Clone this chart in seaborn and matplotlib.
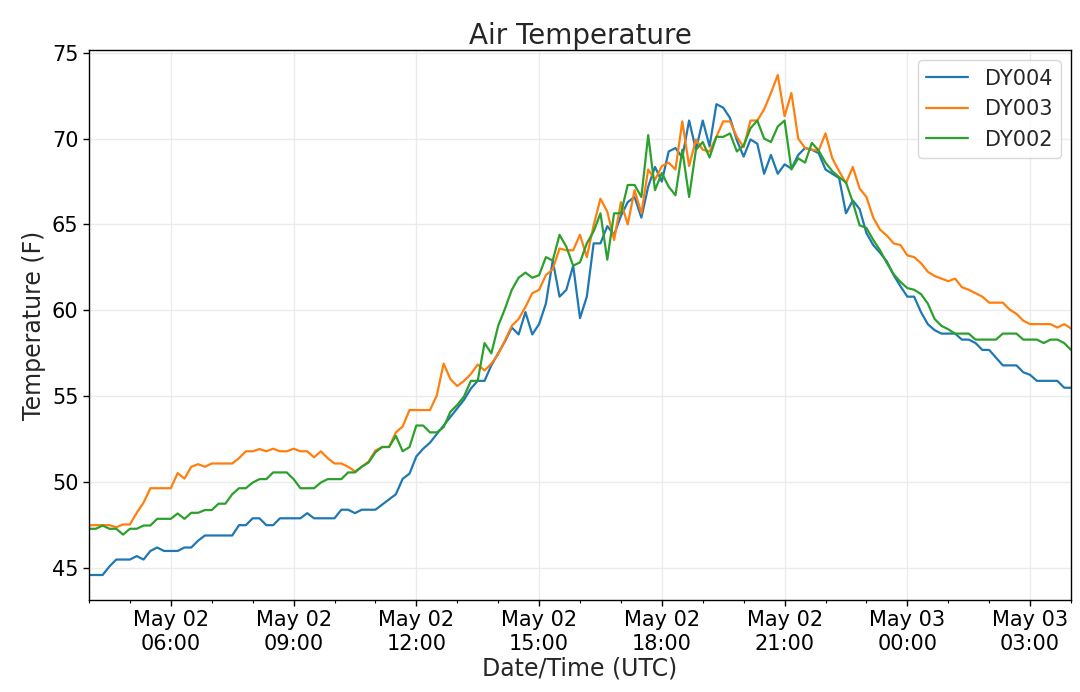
import pandas as pd
import seaborn as sns
import matplotlib

matplotlib.use("Agg")
import matplotlib.pyplot as plt
import matplotlib.dates as mdates

# readings every 10 minutes, 2 May 04:00 UTC -> 3 May 04:00 UTC
start_time = "2019-05-02 04:00"
step = "10min"

dy004 = [
    44.6, 44.6, 44.6, 45.1, 45.5, 45.5, 45.5, 45.7, 45.5, 46.0, 46.2, 46.0, 46.0, 46.0, 46.2,
    46.2, 46.6, 46.9, 46.9, 46.9, 46.9, 46.9, 47.5, 47.5, 47.9, 47.9, 47.5, 47.5, 47.9, 47.9,
    47.9, 47.9, 48.2, 47.9, 47.9, 47.9, 47.9, 48.4, 48.4, 48.2, 48.4, 48.4, 48.4, 48.7,
    49.0, 49.3, 50.2, 50.5, 51.5, 51.95, 52.3, 52.8, 53.3, 53.8, 54.3, 54.8, 55.45, 55.9,
    55.9, 56.8, 57.5,
    58.2, 59.0, 58.6, 59.9, 58.6, 59.2, 60.4, 62.9, 60.8, 61.2, 62.6, 59.55, 60.8, 63.9,
    63.9, 64.9, 64.4, 65.5,
    66.3, 66.6, 65.4, 67.2, 68.35, 67.5, 69.25, 69.45, 68.9, 71.05, 69.35, 71.05, 69.55,
    72.0, 71.8,
    71.2, 69.9, 68.95, 69.95, 69.7, 67.95, 69.05, 67.95, 68.5, 68.25, 69.05, 69.45, 69.35,
    69.15,
    68.2, 67.95, 67.7, 65.65, 66.4, 65.9, 64.5, 63.8, 63.35, 62.85, 62.05, 61.4, 60.8, 60.8,
    59.9, 59.2, 58.85, 58.65, 58.65, 58.65, 58.3, 58.3, 58.1, 57.7, 57.7, 57.25, 56.8, 56.8,
    56.8, 56.4, 56.25, 55.9, 55.9, 55.9, 55.9, 55.5, 55.5,
]

dy003 = [
    47.5, 47.5, 47.5, 47.5, 47.38, 47.54, 47.54, 48.22, 48.81, 49.65, 49.65, 49.65, 49.65,
    50.53, 50.21, 50.9, 51.05, 50.9, 51.09, 51.09, 51.09, 51.09, 51.4, 51.8, 51.8, 51.93,
    51.8, 51.95, 51.8, 51.8, 51.95, 51.8, 51.8, 51.45, 51.8, 51.4, 51.09, 51.09, 50.9, 50.63,
    50.9, 51.2, 51.85, 52.05,
    52.05, 52.9, 53.25, 54.2, 54.2, 54.2, 54.2, 55.05, 56.9, 56.0, 55.6, 55.9, 56.3, 56.85,
    56.5, 56.9, 57.45,
    58.25, 59.1, 59.5, 60.2, 61.0, 61.2, 62.05, 62.4, 63.6, 63.5, 63.5, 64.4, 63.1, 64.95,
    66.5, 65.75, 64.1, 66.3,
    65.0, 67.0, 65.65, 68.2, 67.6, 68.4, 68.6, 68.2, 71.0, 68.4, 69.95, 69.35, 69.25, 70.1,
    71.0,
    71.0, 70.1, 69.5, 71.05, 71.05, 71.7, 72.65, 73.7, 71.3, 72.65, 70.0, 69.45, 69.35, 69.3,
    70.3, 68.85, 68.1, 67.4, 68.35, 67.1, 66.6, 65.4, 64.7, 64.35, 63.9, 63.8, 63.2, 63.1,
    62.75, 62.25, 62.0, 61.85, 61.7, 61.85, 61.35, 61.2, 61.0, 60.8, 60.45, 60.45, 60.45,
    60.05, 59.8, 59.4, 59.2, 59.2, 59.2, 59.2, 59.0, 59.2, 58.95,
]

dy002 = [
    47.29, 47.29, 47.48, 47.29, 47.29, 46.95, 47.29, 47.29, 47.48, 47.48, 47.87, 47.87, 47.87,
    48.18, 47.87, 48.22, 48.22, 48.38, 48.38, 48.75, 48.75, 49.3, 49.65, 49.65, 49.98, 50.18,
    50.18, 50.57, 50.57, 50.57, 50.18, 49.65, 49.65, 49.65, 49.98, 50.18, 50.18, 50.18, 50.57,
    50.57, 50.9, 51.15, 51.74, 52.05,
    52.05, 52.7, 51.8, 52.05, 53.3, 53.3, 52.9, 52.9, 53.2, 54.1, 54.5, 55.0, 55.9, 55.9,
    58.1, 57.5, 59.1,
    60.1, 61.2, 61.9, 62.2, 61.9, 62.05, 63.1, 62.9, 64.4, 63.7, 62.6, 62.8, 63.9, 64.6,
    65.65, 62.95, 65.65, 65.65,
    67.3, 67.3, 66.6, 70.2, 67.0, 68.0, 67.2, 66.7, 69.35, 66.6, 69.35, 69.8, 68.9, 70.1,
    70.1,
    70.3, 69.25, 69.6, 70.6, 71.05, 70.0, 69.8, 70.7, 71.05, 68.2, 68.85, 68.6, 69.75, 69.3,
    68.6, 68.1, 67.75, 67.45, 66.3, 64.95, 64.8, 64.1, 63.5, 62.75, 62.1, 61.65, 61.3, 61.2,
    60.95, 60.4, 59.5, 59.1, 58.9, 58.65, 58.65, 58.65, 58.3, 58.3, 58.3, 58.3, 58.65, 58.65,
    58.65, 58.3, 58.3, 58.3, 58.1, 58.3, 58.3, 58.1, 57.7,
]

stations = ["DY004", "DY003", "DY002"]
colors = ["#1f77b4", "#ff7f0e", "#2ca02c"]


def build_frame():
    times = pd.date_range(start_time, periods=len(dy004), freq=step)
    wide = pd.DataFrame({"DY004": dy004, "DY003": dy003, "DY002": dy002}, index=times)
    wide.index.name = "time"
    return wide.reset_index().melt(id_vars="time", var_name="station", value_name="temp")


def main():
    sns.set_style(
        "ticks",
        {
            "axes.grid": True,
            "grid.color": "#ebebeb",
            "axes.edgecolor": "black",
            "xtick.color": "black",
            "ytick.color": "black",
        },
    )
    plt.rcParams["font.family"] = ["DejaVu Sans"]

    df = build_frame()

    fig, ax = plt.subplots(figsize=(10.8, 6.92), dpi=100)
    fig.subplots_adjust(left=89 / 1080, right=1071 / 1080, top=1 - 50 / 692, bottom=1 - 600 / 692)

    sns.lineplot(
        data=df,
        x="time",
        y="temp",
        hue="station",
        hue_order=stations,
        palette=colors,
        linewidth=1.6,
        ax=ax,
    )

    ax.set_xlim(df["time"].min(), df["time"].max())
    ax.xaxis.set_major_locator(mdates.HourLocator(byhour=range(0, 24, 3)))
    ax.xaxis.set_minor_locator(mdates.HourLocator())
    ax.xaxis.set_major_formatter(mdates.DateFormatter("%b %d\n%H:%M"))
    ax.grid(True, which="major", color="#ebebeb", linewidth=1)

    ax.tick_params(axis="both", which="major", labelsize=15, length=4, width=1)
    ax.tick_params(axis="x", which="minor", length=2.5, width=0.8)
    for side in ["top", "right", "left", "bottom"]:
        ax.spines[side].set_visible(True)
        ax.spines[side].set_linewidth(1)

    ax.set_xlabel("Date/Time (UTC)", fontsize=17, labelpad=2)
    ax.set_ylabel("Temperature (F)", fontsize=17)
    ax.set_title("Air Temperature", fontsize=20, pad=4)

    leg = ax.legend(loc="upper right", fontsize=15, frameon=True, handlelength=2.0)
    leg.set_title(None)
    leg.get_frame().set_edgecolor("#d0d0d0")

    fig.savefig("out.png", dpi=100)


if __name__ == "__main__":
    main()
